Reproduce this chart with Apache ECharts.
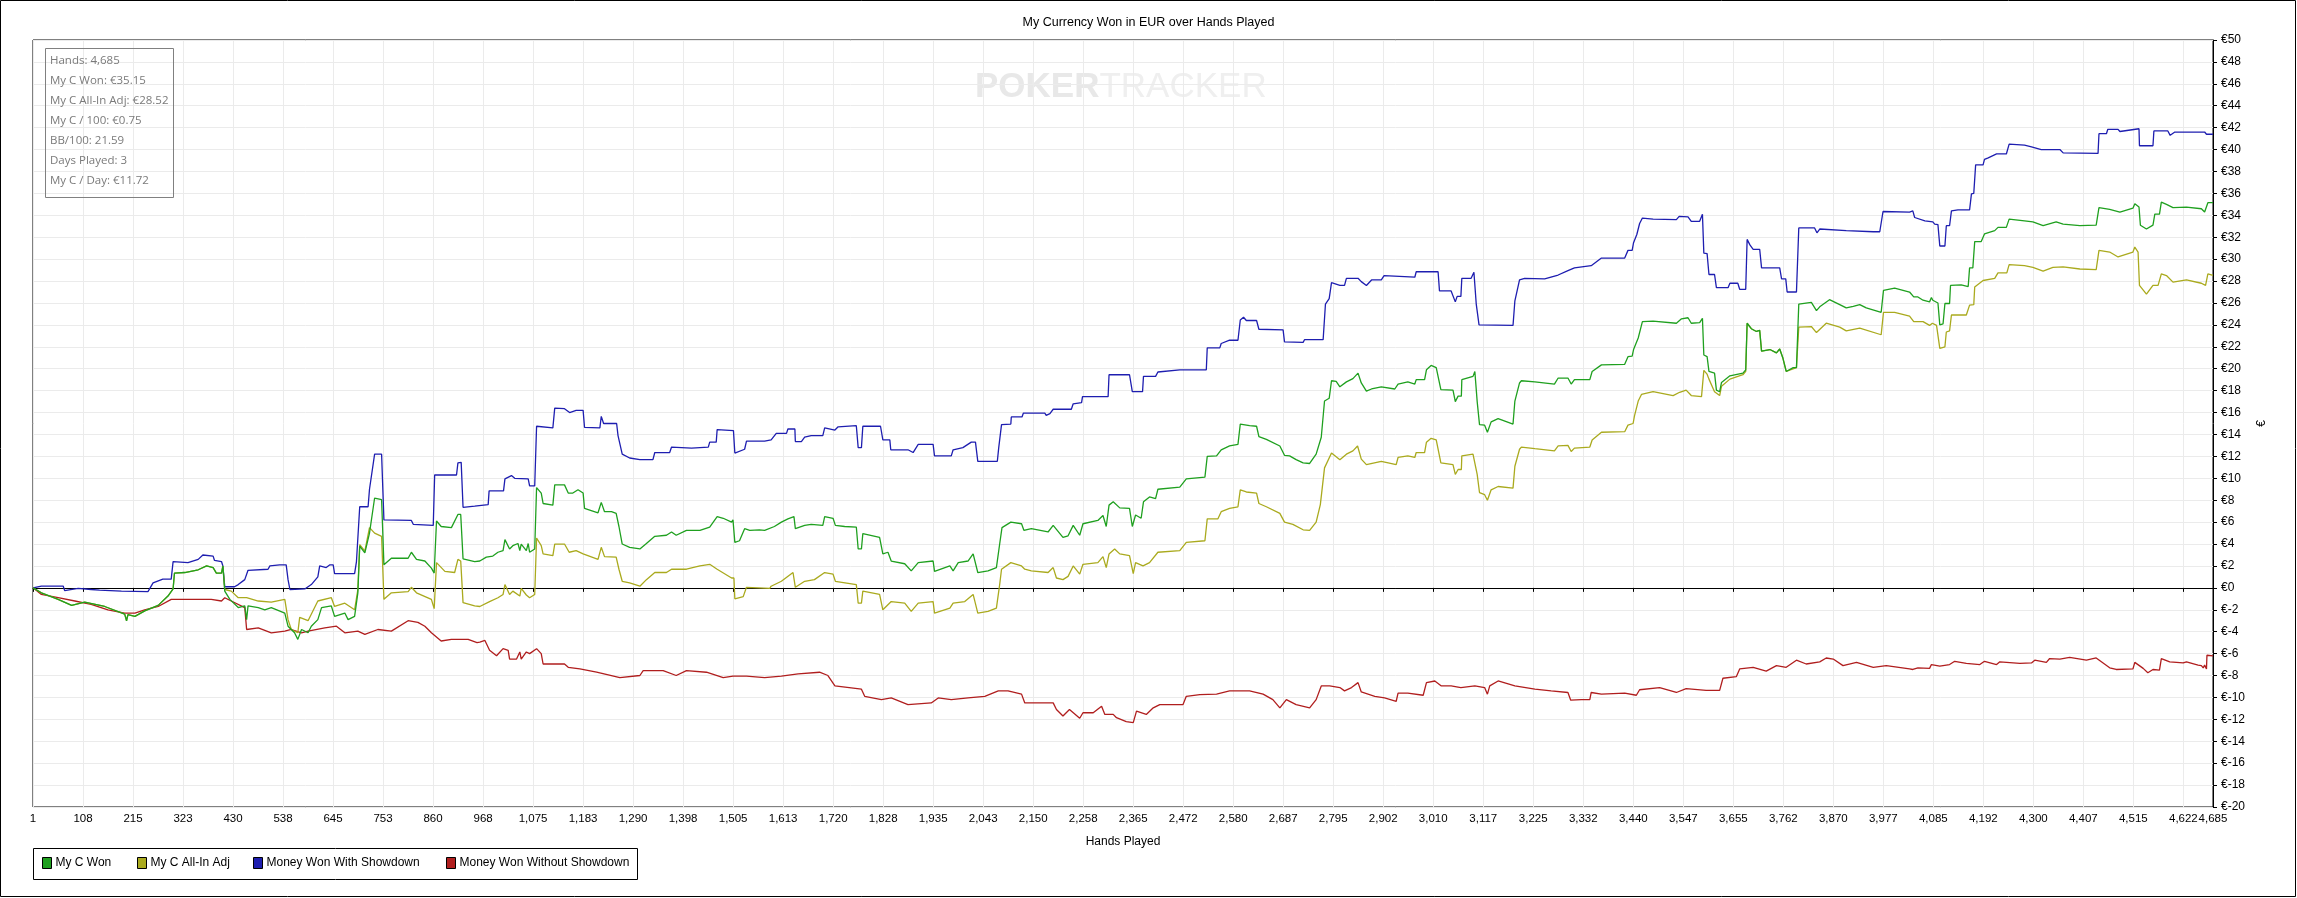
<!DOCTYPE html>
<html><head><meta charset="utf-8">
<script src="https://cdn.jsdelivr.net/npm/echarts@6/dist/echarts.min.js"></script>
<style>html,body{margin:0;padding:0;background:#fff;overflow:hidden}#c{width:2297px;height:898px}</style>
</head><body><div id="c"></div><script>
const chartTitle = 'My Currency Won in EUR over Hands Played';
const xAxisName = 'Hands Played';
const yAxisName = '€';
const seriesNames = ['My C Won', 'My C All-In Adj', 'Money Won With Showdown', 'Money Won Without Showdown'];
const seriesColors = ['#1fa01f', '#aaaa1e', '#1e1eb0', '#b01e1e'];
const xTickLabels = [1,108,215,323,430,538,645,753,860,968,1075,1183,1290,1398,1505,1613,1720,1828,1935,2043,2150,2258,2365,2472,2580,2687,2795,2902,3010,3117,3225,3332,3440,3547,3655,3762,3870,3977,4085,4192,4300,4407,4515,4622,4685];
const statsLines = ['Hands: 4,685', 'My C Won: €35.15', 'My C All-In Adj: €28.52', 'My C / 100: €0.75', 'BB/100: 21.59', 'Days Played: 3', 'My C / Day: €11.72'];

// [hand, euros]
const myCWon = [
[1,0],[19,-0.45],[55,-1.05],[84,-1.6],[112,-1.3],[155,-1.7],[198,-2.4],[202,-3.0],[205,-2.45],[220,-2.6],[241,-2.1],[270,-1.6],[291,-0.75],[302,-0.1],[305,1.35],[327,1.4],[356,1.65],[374,2.0],[388,1.85],[395,1.35],[406,1.35],[409,2.0],[413,-0.3],[424,-1.05],[442,-1.8],[456,-1.65],[460,-2.9],[463,-1.65],[485,-1.8],[499,-2.0],[513,-1.8],[542,-2.3],[549,-3.5],[563,-4.1],[570,-4.7],[578,-3.8],[592,-4.1],[599,-3.5],[613,-2.9],[621,-1.8],[642,-1.65],[649,-2.6],[671,-2.3],[678,-2.9],[692,-2.6],[699,-0.45],[703,3.8],[714,3.2],[724,5.0],[735,8.2],[750,8.05],[755,2.1],[771,2.7],[807,2.7],[814,3.25],[825,2.6],[843,2.45],[857,1.8],[863,1.35],[868,6.1],[878,5.6],[900,5.5],[914,6.7],[920,6.7],[925,2.65],[950,2.4],
[961,2.45],[975,2.8],[989,2.9],[1000,3.25],[1011,3.4],[1015,4.4],[1025,3.55],[1032,3.85],[1043,4.05],[1047,3.4],[1050,4.0],[1061,3.4],[1065,4.05],[1068,3.25],[1079,3.55],[1083,9.15],[1093,8.65],[1097,7.7],[1118,7.55],[1122,9.4],[1143,9.4],[1151,8.65],[1161,8.65],[1172,8.95],[1183,8.65],[1186,7.25],[1215,6.85],[1222,7.8],[1229,6.95],[1244,6.95],[1254,6.8],[1260,5.6],[1267,4.0],[1283,3.7],[1305,3.55],[1319,4.05],[1337,4.7],[1362,4.8],[1373,5.1],[1383,4.8],[1405,5.25],[1434,5.25],[1455,5.55],[1471,6.5],[1484,6.35],[1502,6.0],[1505,6.2],[1509,4.15],[1519,4.3],[1530,5.4],[1541,5.25],[1562,5.3],
[1573,5.25],[1594,5.6],[1609,6.0],[1623,6.3],[1636,6.5],[1639,5.4],[1659,5.7],[1673,5.8],[1698,5.7],[1702,6.5],[1720,6.35],[1725,5.7],[1745,5.6],[1770,5.55],[1774,3.55],[1781,3.55],[1784,4.95],[1820,4.6],[1827,3.1],[1838,3.25],[1845,2.45],[1874,2.2],[1888,1.55],[1903,2.3],[1935,2.45],[1938,1.5],[1971,2.0],[1978,1.55],[1989,2.3],[2010,2.45],[2021,3.1],[2031,1.4],[2053,1.55],[2071,1.85],[2078,4.0],[2083,5.5],[2102,6.0],[2125,5.85],[2130,5.25],[2146,5.4],[2182,5.1],[2193,5.7],
[2214,4.6],[2225,4.75],[2236,5.7],[2250,4.8],[2257,5.85],[2289,6.15],[2300,6.6],[2307,5.6],[2313,7.55],[2322,7.85],[2336,7.3],[2357,7.25],[2363,5.6],[2370,6.65],[2382,6.35],[2387,7.85],[2400,8.3],[2413,8.15],[2418,9.0],[2465,9.2],[2479,9.95],[2519,10.1],[2524,12.0],[2544,12.05],[2554,12.6],[2572,12.95],[2590,13.1],[2595,14.95],[2615,14.8],[2630,14.75],[2635,13.8],[2651,13.55],[2680,12.95],[2690,12.1],[2701,12.05],[2715,11.7],[2730,11.4],[2744,11.35],[2758,12.2],[2769,13.75],[2776,17.05],[2786,17.3],[2791,18.9],[2801,18.85],[2809,18.35],
[2823,18.8],[2837,19.1],[2848,19.6],[2855,18.7],[2866,17.95],[2877,18.15],[2898,18.35],[2927,18.15],[2934,18.6],[2955,18.8],[2970,18.6],[2973,19.0],[2991,19.0],[2995,19.9],[3005,20.3],[3016,20.1],[3026,18.1],[3052,18.05],[3057,17.0],[3063,17.5],[3070,17.5],[3071,19.0],[3095,19.3],[3099,19.75],[3104,17.0],[3109,14.9],[3120,14.85],[3126,14.2],[3134,15.15],[3149,15.45],[3181,14.95],[3185,17.05],[3195,18.7],[3199,18.9],[3228,18.8],[3270,18.6],[3278,19.15],[3299,19.15],[3306,18.6],[3313,19.0],[3346,19.0],[3351,19.75],[3371,20.35],[3421,20.4],
[3425,20.35],[3428,21.1],[3437,21.15],[3440,21.75],[3450,22.8],[3459,24.3],[3482,24.35],[3532,24.15],[3543,24.55],[3557,24.65],[3564,24.15],[3582,24.2],[3588,24.6],[3591,21.25],[3598,21.1],[3602,19.75],[3614,19.6],[3618,18.05],[3625,17.9],[3629,18.75],[3647,19.35],[3675,19.6],[3681,19.9],[3684,24.15],[3693,23.65],[3704,23.4],[3711,23.5],[3715,21.6],[3733,21.75],[3747,21.45],[3754,21.8],[3761,20.95],[3768,19.75],[3783,20.1],[3790,20.1],[3795,25.9],[3822,26.05],[3833,25.3],[3840,25.65],[3861,26.3],[3883,25.85],[3897,25.55],[3912,25.7],[3926,25.85],[3940,25.55],[3972,25.15],[3977,27.15],[4001,27.35],[4033,27.0],
[4037,27.05],[4042,26.55],[4051,26.55],[4062,26.25],[4076,26.1],[4080,26.5],[4083,26.25],[4087,26.1],[4094,26.0],[4098,24.0],[4105,24.1],[4109,25.95],[4119,25.95],[4121,27.6],[4144,27.65],[4159,27.5],[4162,29.2],[4169,29.2],[4173,31.6],[4187,31.6],[4194,32.3],[4216,32.6],[4223,32.9],[4241,32.9],[4247,33.65],[4280,33.5],[4298,33.4],[4320,33.05],[4348,33.4],[4363,33.2],[4399,33.05],[4434,33.1],[4440,34.7],[4463,34.55],[4485,34.3],[4513,34.65],[4517,35.05],[4526,34.75],[4529,33.1],[4542,32.75],[4556,33.1],[4560,34.1],[4570,34.1],[4574,35.2],[4585,35.0],[4599,34.7],[4628,34.75],[4660,34.6],[4667,34.3],[4674,35.15],[4685,35.15]
];

const myCAllInAdj = [
[1,0],[19,-0.45],[55,-1.05],[84,-1.6],[112,-1.3],[155,-1.7],[198,-2.4],[202,-3.0],[205,-2.45],[220,-2.6],[241,-2.1],[270,-1.6],[291,-0.75],[302,-0.1],[305,1.35],[327,1.4],[356,1.65],[374,2.0],[388,1.85],[395,1.35],[406,1.35],[409,2.0],[413,-0.15],[427,-0.3],[442,-0.9],[460,-0.9],[485,-1.2],[513,-1.3],[542,-1.05],[549,-2.9],[556,-3.8],[570,-4.1],[574,-2.7],[592,-3.0],[613,-1.2],[642,-0.9],[649,-1.7],[671,-1.4],[692,-2.0],[699,-0.15],[703,3.95],[714,3.35],[724,5.5],[735,5.0],[750,4.7],[755,-1.05],[771,-0.45],[807,-0.35],[814,0.05],[825,-0.45],[857,-1.05],[863,-1.9],[868,2.3],[886,1.5],[907,1.4],[914,2.6],[920,2.45],[925,-1.35],[950,-1.65],
[961,-1.7],[982,-1.25],[1000,-0.9],[1011,-0.6],[1015,0.3],[1025,-0.6],[1032,-0.3],[1047,-0.75],[1050,-0.05],[1061,-0.65],[1068,-0.9],[1079,-0.6],[1083,4.55],[1093,3.85],[1097,3.1],[1118,2.95],[1122,4.0],[1143,4.0],[1153,3.25],[1168,3.4],[1183,3.1],[1215,2.6],[1222,3.7],[1229,2.85],[1254,2.8],[1260,1.7],[1267,0.6],[1283,0.45],[1305,0.15],[1319,0.75],[1337,1.4],[1362,1.4],[1373,1.7],[1405,1.7],[1434,2.0],[1455,2.15],[1471,1.7],[1502,0.9],[1507,0.9],[1509,-1.0],[1527,-0.8],[1534,0.05],[1584,-0.05],
[1587,0.15],[1609,0.6],[1634,1.4],[1639,0.05],[1659,0.6],[1680,0.75],[1702,1.4],[1720,1.25],[1725,0.6],[1770,0.3],[1774,-1.4],[1781,-1.4],[1784,-0.3],[1820,-0.6],[1827,-2.0],[1845,-1.25],[1874,-1.4],[1888,-2.15],[1903,-1.4],[1935,-1.25],[1938,-2.3],[1971,-1.85],[1978,-1.4],[2003,-1.25],[2021,-0.6],[2031,-2.3],[2053,-2.15],[2071,-1.85],[2078,0.3],[2082,1.7],[2102,2.3],[2125,2.0],[2132,1.7],[2146,1.55],[2182,1.4],[2193,1.85],
[2200,0.9],[2214,0.75],[2225,1.05],[2236,2.0],[2250,1.25],[2257,2.15],[2289,2.3],[2300,2.85],[2307,1.85],[2313,3.1],[2325,3.55],[2336,3.1],[2357,2.95],[2365,1.3],[2370,2.3],[2386,2.0],[2400,2.3],[2418,3.25],[2465,3.4],[2479,4.15],[2519,4.3],[2524,6.3],[2547,6.3],[2554,6.95],[2572,7.25],[2590,7.4],[2595,8.95],[2608,8.75],[2630,8.65],[2635,7.7],[2651,7.4],[2680,6.8],[2690,6.0],[2708,5.8],[2730,5.3],[2744,5.25],[2758,6.0],[2767,7.6],[2776,10.95],[2791,12.3],[2809,11.7],
[2823,12.2],[2837,12.5],[2847,12.95],[2855,11.75],[2866,11.25],[2898,11.55],[2930,11.25],[2934,11.9],[2955,12.05],[2970,11.9],[2973,12.35],[2991,12.35],[2995,13.3],[3005,13.65],[3016,13.5],[3026,11.4],[3052,11.25],[3057,10.35],[3063,10.8],[3070,10.8],[3071,12.05],[3095,12.2],[3099,12.35],[3104,10.35],[3109,8.7],[3120,8.5],[3126,8.0],[3134,8.95],[3149,9.25],[3181,9.1],[3185,11.1],[3195,12.65],[3199,12.85],[3228,12.7],[3270,12.5],[3278,12.95],[3299,13.0],[3306,12.45],[3313,12.75],[3346,12.85],[3351,13.5],[3371,14.2],[3421,14.25],
[3428,14.85],[3439,15.0],[3442,15.7],[3450,17.05],[3457,17.65],[3482,17.9],[3525,17.55],[3539,17.85],[3553,18.05],[3564,17.55],[3586,17.45],[3591,19.85],[3598,19.5],[3602,19.05],[3614,17.9],[3625,17.55],[3629,18.4],[3647,19.05],[3675,19.45],[3681,19.75],[3684,24.15],[3693,23.65],[3704,23.4],[3711,23.5],[3715,21.6],[3733,21.75],[3747,21.45],[3754,21.8],[3761,20.95],[3768,19.75],[3790,20.1],[3795,23.8],[3822,23.85],[3833,23.3],[3854,24.15],[3883,23.8],[3897,23.45],[3926,23.7],[3972,23.1],[3977,25.15],[4001,25.15],[4033,24.8],
[4037,24.95],[4042,24.3],[4062,24.3],[4076,23.95],[4082,24.15],[4091,23.95],[4098,21.85],[4109,22.0],[4112,23.35],[4119,23.45],[4123,24.9],[4155,24.9],[4162,25.8],[4171,25.85],[4173,27.45],[4191,28.05],[4216,28.25],[4223,28.75],[4242,28.75],[4247,29.5],[4280,29.4],[4298,29.25],[4320,28.9],[4341,29.25],[4363,29.3],[4399,29.1],[4434,29.05],[4440,30.8],[4463,30.65],[4481,30.2],[4513,30.65],[4517,31.1],[4524,30.65],[4527,27.6],[4542,26.8],[4556,27.6],[4567,27.6],[4574,28.65],[4585,28.5],[4599,27.9],[4628,28.1],[4660,27.8],[4669,27.6],[4674,28.65],[4685,28.52]
];

const wonWithShowdown = [
[1,0],[19,0.15],[40,0.15],[66,0.15],[69,-0.25],[98,-0.05],[126,-0.15],[144,-0.2],[191,-0.3],[248,-0.35],[259,0.45],[280,0.8],[298,0.8],[302,2.4],[334,2.3],[356,2.6],[366,3.0],[388,2.9],[391,2.5],[406,2.4],[409,2.0],[413,0.1],[434,0.1],[442,0.3],[456,0.75],[463,1.6],[506,1.7],[510,2.0],[531,2.1],[545,2.1],[549,0.75],[553,-0.15],[585,-0.1],[599,0.3],[613,1.0],[617,2.0],[631,1.85],[639,2.1],[646,2.1],[649,1.3],[692,1.3],[696,2.4],[703,7.4],[721,7.4],[724,9.0],[735,12.2],[750,12.2],[755,6.2],[814,6.15],[818,5.8],[861,5.7],[864,10.3],[911,10.3],[914,11.4],[921,11.45],[925,7.35],[950,7.45],[954,7.6],[979,7.6],
[981,8.85],[1012,8.85],[1015,9.95],[1029,10.25],[1036,10.0],[1065,9.95],[1068,9.3],[1079,9.3],[1083,14.75],[1118,14.6],[1122,16.4],[1143,16.35],[1154,16.0],[1168,16.2],[1183,16.2],[1186,14.65],[1219,14.6],[1222,15.65],[1227,15.0],[1255,15.0],[1258,13.9],[1267,12.2],[1283,11.85],[1305,11.7],[1333,11.7],[1337,12.35],[1369,12.35],[1373,12.85],[1416,12.75],[1452,12.85],[1455,13.3],[1469,13.3],[1471,14.45],[1506,14.35],[1509,12.3],[1530,12.65],[1534,13.4],
[1573,13.4],[1587,13.5],[1598,14.1],[1620,14.1],[1623,14.5],[1638,14.5],[1639,13.35],[1652,13.35],[1659,13.75],[1673,13.9],[1698,13.9],[1702,14.6],[1724,14.4],[1731,14.7],[1770,14.8],[1774,12.8],[1781,12.8],[1784,14.75],[1822,14.75],[1827,13.5],[1842,13.5],[1844,12.6],[1881,12.6],[1892,12.35],[1903,13.1],[1935,13.1],[1938,12.05],[1974,12.05],[1978,12.6],[1999,12.8],[2017,13.3],[2026,13.3],[2031,11.55],[2073,11.55],[2076,12.8],[2082,14.9],[2102,14.95],[2103,15.6],[2126,15.6],[2129,15.95],[2175,15.95],[2178,15.75],[2186,15.9],
[2193,16.3],[2232,16.3],[2236,16.8],[2254,16.9],[2256,17.45],[2311,17.45],[2313,19.45],[2357,19.45],[2363,17.9],[2385,17.9],[2387,19.3],[2413,19.3],[2418,19.7],[2465,19.9],[2522,19.9],[2524,21.9],[2551,21.9],[2554,22.3],[2572,22.6],[2590,22.6],[2595,24.45],[2602,24.7],[2608,24.4],[2630,24.4],[2635,23.6],[2687,23.55],[2690,22.45],[2730,22.4],[2733,22.65],[2773,22.65],[2778,25.9],[2786,26.4],[2791,27.85],[2809,27.6],
[2819,27.6],[2823,28.25],[2848,28.25],[2855,27.95],[2866,27.6],[2877,28.1],[2898,28.1],[2904,28.5],[2970,28.35],[2973,28.85],[3020,28.85],[3023,27.1],[3048,27.1],[3057,26.1],[3061,26.6],[3069,26.6],[3071,28.25],[3091,28.25],[3097,28.8],[3102,25.9],[3108,24.0],[3181,23.95],[3185,26.2],[3195,28.1],[3206,28.25],[3249,28.2],[3278,28.55],[3299,28.95],[3313,29.2],[3349,29.4],[3371,30.1],[3421,30.1],
[3425,30.1],[3428,30.8],[3437,30.8],[3440,31.5],[3447,32.25],[3453,33.25],[3459,33.75],[3482,33.65],[3532,33.6],[3538,33.9],[3557,33.85],[3564,33.45],[3582,33.45],[3588,34.1],[3591,30.55],[3598,30.5],[3602,28.6],[3614,28.6],[3618,27.4],[3643,27.4],[3647,27.8],[3664,27.8],[3668,27.25],[3681,27.25],[3684,31.8],[3690,31.3],[3697,30.9],[3711,30.9],[3715,29.2],[3754,29.2],[3758,28.2],[3767,28.2],[3770,27.0],[3790,27.0],[3795,32.85],[3829,32.85],[3834,32.4],[3840,32.75],[3897,32.6],[3955,32.5],[3969,32.5],[3976,34.35],[4033,34.3],
[4040,34.4],[4044,33.8],[4066,33.5],[4083,33.4],[4087,33.2],[4094,33.15],[4098,31.2],[4109,31.2],[4112,33.05],[4119,33.05],[4123,34.4],[4137,34.5],[4162,34.5],[4166,35.95],[4171,36.0],[4175,38.6],[4191,38.6],[4194,39.1],[4202,39.25],[4220,39.6],[4241,39.6],[4247,40.5],[4280,40.4],[4295,40.25],[4316,40.0],[4356,40.0],[4363,39.7],[4438,39.65],[4440,41.45],[4456,41.45],[4459,41.85],[4481,41.85],[4485,41.65],[4488,41.8],[4526,41.9],[4527,40.35],[4556,40.35],[4558,41.7],[4588,41.7],[4593,41.3],[4603,41.6],[4667,41.6],[4671,41.4],[4685,41.4]
];

const wonWithoutShowdown = [
[1,0],[19,-0.6],[55,-0.9],[91,-1.2],[126,-1.5],[162,-2.0],[198,-2.3],[220,-2.3],[241,-2.0],[270,-1.7],[298,-1.05],[327,-1.05],[356,-1.05],[384,-1.05],[406,-1.2],[413,-0.9],[427,-1.2],[456,-1.8],[460,-3.8],[485,-3.65],[513,-4.1],[542,-3.95],[556,-3.8],[578,-4.1],[592,-3.95],[628,-3.65],[653,-3.5],[671,-4.1],[699,-3.95],[714,-4.25],[742,-3.8],[771,-3.95],[807,-3.0],[828,-3.15],[843,-3.5],[857,-4.1],[878,-4.85],[900,-4.7],[936,-4.7],[955,-5.0],
[961,-4.95],[972,-4.8],[982,-5.7],[997,-6.2],[1011,-5.55],[1022,-5.7],[1025,-6.5],[1040,-6.5],[1047,-5.85],[1050,-6.5],[1061,-5.85],[1068,-6.0],[1083,-5.55],[1093,-6.0],[1097,-6.95],[1143,-6.95],[1151,-7.25],[1176,-7.4],[1212,-7.7],[1262,-8.2],[1305,-8.0],[1312,-7.55],[1355,-7.55],[1383,-8.0],[1405,-7.55],[1448,-7.7],[1484,-8.2],[1505,-8.05],[1534,-8.05],
[1573,-8.2],[1609,-8.05],[1645,-7.85],[1691,-7.7],[1709,-8.0],[1724,-8.95],[1781,-9.25],[1788,-9.9],[1824,-10.2],[1845,-10.05],[1881,-10.65],[1931,-10.5],[1946,-10.05],[1974,-10.2],[2010,-10.05],[2046,-9.9],[2075,-9.4],[2096,-9.4],[2125,-9.7],[2132,-10.5],[2160,-10.5],[2193,-10.5],
[2200,-11.1],[2214,-11.7],[2228,-11.1],[2250,-11.9],[2257,-11.4],[2279,-11.4],[2297,-10.8],[2304,-11.55],[2322,-11.55],[2329,-11.85],[2350,-12.2],[2365,-12.3],[2372,-11.25],[2393,-11.55],[2408,-10.95],[2422,-10.65],[2472,-10.65],[2479,-9.9],[2508,-9.75],[2544,-9.7],[2572,-9.4],[2615,-9.4],[2644,-9.7],[2665,-10.2],[2680,-10.95],[2694,-10.2],[2715,-10.65],[2744,-10.95],[2758,-10.2],[2769,-8.95],[2787,-8.95],[2809,-9.1],
[2819,-9.4],[2834,-9.1],[2848,-8.65],[2855,-9.5],[2884,-9.9],[2905,-10.05],[2930,-10.35],[2934,-9.6],[2955,-9.6],[2988,-9.8],[2995,-8.65],[3013,-8.5],[3027,-8.95],[3048,-8.95],[3069,-9.1],[3099,-8.95],[3120,-9.1],[3126,-9.7],[3131,-8.95],[3149,-8.5],[3185,-8.95],[3228,-9.25],[3263,-9.4],[3299,-9.55],[3305,-10.25],[3328,-10.2],[3346,-10.2],[3349,-9.55],[3371,-9.7],[3421,-9.6],
[3446,-9.8],[3453,-9.3],[3496,-9.1],[3532,-9.55],[3553,-9.2],[3596,-9.35],[3625,-9.35],[3632,-8.25],[3661,-8.1],[3668,-7.4],[3697,-7.25],[3725,-7.6],[3747,-7.1],[3768,-7.25],[3790,-6.6],[3811,-6.95],[3840,-6.75],[3854,-6.4],[3869,-6.5],[3890,-7.1],[3919,-6.8],[3955,-7.25],[3983,-7.1],[4033,-7.4],
[4040,-7.45],[4051,-7.3],[4076,-7.35],[4080,-7.0],[4098,-7.15],[4119,-7.0],[4130,-6.7],[4155,-6.9],[4184,-7.0],[4194,-6.7],[4220,-7.0],[4227,-6.75],[4270,-6.9],[4295,-6.85],[4302,-6.6],[4327,-6.8],[4334,-6.45],[4356,-6.5],[4377,-6.35],[4413,-6.6],[4434,-6.4],[4463,-7.3],[4477,-7.45],[4513,-7.4],[4517,-6.8],[4535,-7.35],[4545,-7.75],[4556,-7.45],[4570,-7.5],[4574,-6.45],[4592,-6.75],[4621,-6.85],[4628,-6.75],[4653,-7.05],[4660,-7.1],[4664,-7.3],[4667,-7.05],[4671,-7.4],[4672,-6.15],[4685,-6.2]
];

const seriesData = [myCWon, myCAllInAdj, wonWithShowdown, wonWithoutShowdown];
const TICK_STEP = 107.45;
const FONT = '"Liberation Sans", Arial, sans-serif';

const chart = echarts.init(document.getElementById('c'), null, {renderer: 'canvas'});

const legendLefts = [42, 137, 253, 446];
const legends = seriesNames.map((n, i) => ({
  data: [n], left: legendLefts[i], top: 857, orient: 'horizontal',
  icon: 'rect', itemWidth: 9, itemHeight: 11, itemGap: 4,
  padding: 0, selectedMode: false,
  itemStyle: {borderColor: '#000', borderWidth: 1},
  textStyle: {fontFamily: FONT, fontSize: 12, color: '#000', padding: [0, 0, 0, -1]}
}));

const graphics = [
  {type: 'rect', shape: {x: 0.5, y: 0.5, width: 2295, height: 896}, style: {fill: 'none', stroke: '#000', lineWidth: 1}, silent: true, z: 100},
  {type: 'rect', shape: {x: 33.5, y: 848.5, width: 604, height: 31}, style: {fill: 'none', stroke: '#000', lineWidth: 1}, silent: true},
  {type: 'text', left: 975, top: 70, z: 0, silent: true,
    style: {text: '{b|POKER}{n|TRACKER}', rich: {
      b: {fontFamily: FONT, fontSize: 35, fontWeight: 'bold', fill: '#e8e8e8'},
      n: {fontFamily: FONT, fontSize: 35, fill: '#efefef'}}}},
  {type: 'rect', shape: {x: 45.5, y: 48.5, width: 128, height: 149}, style: {fill: 'none', stroke: '#808080', lineWidth: 1}, silent: true, z: 50}
];
statsLines.forEach((t, i) => graphics.push({type: 'text', x: 50, y: 61 + 20 * i, silent: true, z: 50,
  style: {text: t, fontFamily: '"Open Sans", "Noto Sans", sans-serif', fontSize: 11.5, fill: '#7a7a7a', textVerticalAlign: 'middle', verticalAlign: 'middle'}}));

const option = {
  animation: false,
  backgroundColor: '#fff',
  title: {text: chartTitle, left: 'center', top: 16, textStyle: {fontFamily: FONT, fontSize: 12.5, fontWeight: 'normal', color: '#000'}, padding: 0},
  legend: legends,
  grid: {left: 33, right: 84, top: 40, bottom: 91, show: true, borderColor: '#000', borderWidth: 1, containLabel: false},
  xAxis: {
    type: 'value', min: 1, max: 4685, interval: TICK_STEP,
    name: xAxisName, nameLocation: 'middle', nameGap: 29,
    nameTextStyle: {fontFamily: FONT, fontSize: 12, color: '#000'},
    axisLine: {show: true, lineStyle: {color: '#000', width: 1}},
    axisTick: {show: true, length: 4, lineStyle: {color: '#000'}},
    axisLabel: {fontFamily: FONT, fontSize: 11.5, color: '#000', margin: 6, showMinLabel: true, showMaxLabel: true, hideOverlap: false,
      formatter: v => {const k = Math.round(v / TICK_STEP); const lab = xTickLabels[Math.min(k, xTickLabels.length - 1)]; return lab.toLocaleString('en-US');}},
    splitLine: {show: true, lineStyle: {color: '#ebebeb', width: 1}}
  },
  yAxis: {
    type: 'value', position: 'right', min: -20, max: 50, interval: 2,
    name: yAxisName, nameLocation: 'middle', nameGap: 42, nameRotate: 90,
    nameTextStyle: {fontFamily: FONT, fontSize: 12, color: '#000'},
    axisLine: {show: true, lineStyle: {color: '#000', width: 1}},
    axisTick: {show: true, length: 4, lineStyle: {color: '#000'}},
    axisLabel: {fontFamily: FONT, fontSize: 12, color: '#000', margin: 8, formatter: v => '€' + v},
    splitLine: {show: true, lineStyle: {color: '#ebebeb', width: 1}}
  },
  series: seriesNames.map((n, i) => ({
    name: n, type: 'line', data: seriesData[i], showSymbol: false, symbol: 'none',
    color: seriesColors[i], lineStyle: {color: seriesColors[i], width: 1.3},
    z: 3 + (3 - i),
    markLine: i === 0 ? {silent: true, symbol: 'none', label: {show: false}, lineStyle: {color: '#000', width: 1, type: 'solid'}, data: [{yAxis: 0}], z: 1} : undefined
  })),
  graphic: graphics
};
chart.setOption(option);
</script></body></html>
